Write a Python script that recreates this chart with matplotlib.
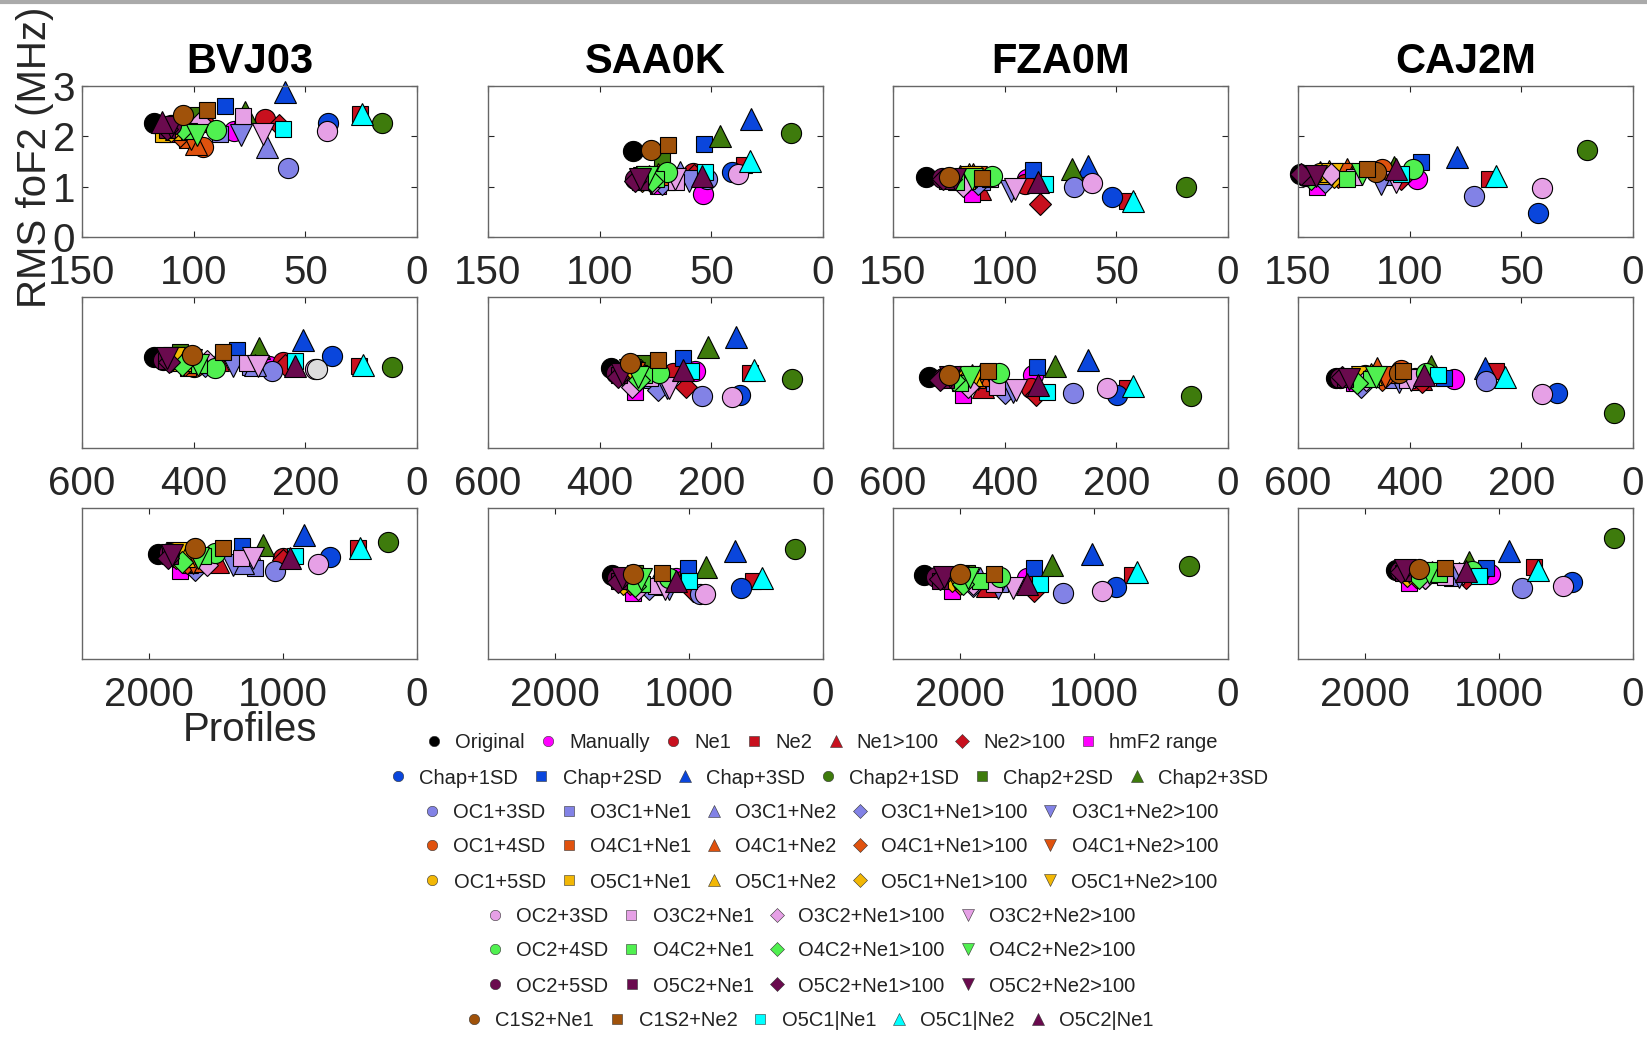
import matplotlib
matplotlib.use('Agg')
import matplotlib.pyplot as plt
from matplotlib.lines import Line2D

plt.rcParams['font.family'] = ['Liberation Sans', 'DejaVu Sans']

stations = ['BVJ03', 'SAA0K', 'FZA0M', 'CAJ2M']

labels = ['Original', 'Manually', 'Ne1', 'Ne2', 'Ne1>100', 'Ne2>100', 'hmF2 range',
          'Chap+1SD', 'Chap+2SD', 'Chap+3SD', 'Chap2+1SD', 'Chap2+2SD', 'Chap2+3SD',
          'OC1+3SD', 'O3C1+Ne1', 'O3C1+Ne2', 'O3C1+Ne1>100', 'O3C1+Ne2>100',
          'OC1+4SD', 'O4C1+Ne1', 'O4C1+Ne2', 'O4C1+Ne1>100', 'O4C1+Ne2>100',
          'OC1+5SD', 'O5C1+Ne1', 'O5C1+Ne2', 'O5C1+Ne1>100', 'O5C1+Ne2>100',
          'OC2+3SD', 'O3C2+Ne1', 'O3C2+Ne1>100', 'O3C2+Ne2>100',
          'OC2+4SD', 'O4C2+Ne1', 'O4C2+Ne1>100', 'O4C2+Ne2>100',
          'OC2+5SD', 'O5C2+Ne1', 'O5C2+Ne1>100', 'O5C2+Ne2>100',
          'C1S2+Ne1', 'C1S2+Ne2', 'O5C1|Ne1', 'O5C1|Ne2', 'O5C2|Ne1']

markers = ['o', 'o', 'o', 's', '^', 'D', 's',
           'o', 's', '^', 'o', 's', '^',
           'o', 's', '^', 'D', 'v',
           'o', 's', '^', 'D', 'v',
           'o', 's', '^', 'D', 'v',
           'o', 's', 'D', 'v',
           'o', 's', 'D', 'v',
           'o', 's', 'D', 'v',
           'o', 's', 's', '^', '^']

red = '#C8101E'
blue = '#0A46DC'
olive = '#3E7B0C'
slate = '#8282E6'
orange = '#E0520E'
gold = '#F2B705'
pink = '#E6A0E6'
lgreen = '#50F050'
purple = '#6A0A4E'
brown = '#A0520A'
colors = ['#000000', '#FF00FF', red, red, red, red, '#FF00FF',
          blue, blue, blue, olive, olive, olive,
          slate, slate, slate, slate, slate,
          orange, orange, orange, orange, orange,
          gold, gold, gold, gold, gold,
          pink, pink, pink, pink,
          lgreen, lgreen, lgreen, lgreen,
          purple, purple, purple, purple,
          brown, brown, '#00FFFF', '#00FFFF', purple]

# number of profiles (x) and RMS foF2 (y), one list per station and panel row
bvj03_r1_x = [117.8, 82, 68, 25.5, 93.6, 62, 112, 39.8, 86, 59, 15.7, 100, 77, 57.7, 88, 67, 104, 79, 96, 103,
              99, 106, 101, 112, 113.6, 108, 110, 106, 40.3, 78, 97, 69, 90, 102, 105, 98.5, 110, 112, 112, 110,
              105, 94, 60, 24.6, 114]
bvj03_r1_y = [2.26, 2.1, 2.34, 2.45, 2.3, 2.22, 2.05, 2.26, 2.6, 2.88, 2.26, 2.42, 2.48, 1.38, 2.05, 1.78, 2.0, 2.02,
              1.78, 1.92, 1.85, 2.0, 1.95, 2.2, 2.05, 2.15, 2.1, 2.2, 2.1, 2.4, 2.28, 2.05, 2.12, 2.1, 2.15, 2.02,
              2.22, 2.12, 2.15, 2.18, 2.42, 2.52, 2.15, 2.45, 2.28]
saa0k_r1_x = [85.2, 53.9, 58, 35.4, 74, 57.8, 74, 40.9, 53.3, 32.2, 14.3, 72.2, 46.1, 52.1, 70, 64, 72, 60, 78, 76,
              74, 77, 80, 80, 79, 78, 81, 79, 37.9, 66, 76, 66.3, 70, 75, 76.7, 79, 84, 82, 84, 82,
              77.2, 69.3, 53, 32.7, 54]
saa0k_r1_y = [1.71, 0.85, 1.28, 1.44, 1.32, 1.24, 1.02, 1.29, 1.85, 2.35, 2.07, 1.55, 2.0, 1.15, 1.1, 1.3, 1.05, 1.12,
              1.2, 1.15, 1.25, 1.1, 1.18, 1.15, 1.1, 1.22, 1.12, 1.2, 1.25, 1.1, 1.08, 1.15, 1.29, 1.15, 1.12, 1.2,
              1.15, 1.1, 1.12, 1.15, 1.73, 1.83, 1.3, 1.5, 1.22]
fza0m_r1_x = [135.2, 90, 90.9, 45.4, 111, 84.2, 114.8, 52, 87.2, 62.6, 18.8, 120, 70, 69, 110, 120, 112, 97, 118, 116,
              114, 117, 113, 118, 117, 116, 119, 115, 61, 106.6, 118.5, 95.4, 105.8, 122, 124, 114.8, 128, 126,
              127.5, 122.2, 125, 110, 82, 42.4, 85]
fza0m_r1_y = [1.2, 1.15, 1.05, 0.72, 0.95, 0.65, 0.85, 0.8, 1.33, 1.42, 1.0, 1.2, 1.35, 1.0, 1.1, 1.22, 1.05, 0.92,
              1.2, 1.15, 1.25, 1.1, 1.2, 1.18, 1.12, 1.25, 1.15, 1.2, 1.07, 1.15, 1.02, 0.95, 1.22, 1.1, 1.15, 1.15,
              1.18, 1.12, 1.15, 1.15, 1.2, 1.18, 1.05, 0.72, 1.09]
caj2m_r1_x = [149, 96.6, 105, 64.5, 108, 104, 141.5, 42.4, 95, 78.7, 20.5, 130, 107, 71.2, 110, 140, 138, 113, 112.3,
              125, 128, 132, 130.2, 140, 138, 136, 134, 135, 40.6, 125, 135.4, 106.3, 98.5, 128, 144, 121.2, 147,
              145, 148.8, 142.1, 115, 119, 104, 61.2, 106]
caj2m_r1_y = [1.25, 1.15, 1.2, 1.15, 1.3, 1.15, 0.99, 0.47, 1.49, 1.59, 1.72, 1.3, 1.4, 0.82, 1.2, 1.3, 1.1, 1.05,
              1.35, 1.25, 1.35, 1.2, 1.25, 1.28, 1.22, 1.32, 1.2, 1.25, 0.97, 1.2, 1.25, 1.09, 1.35, 1.15, 1.15, 1.25,
              1.22, 1.2, 1.25, 1.22, 1.3, 1.35, 1.25, 1.22, 1.36]

bvj03_r2_x = [471, 265, 240, 103.3, 355.9, 236.4, 410, 152.8, 321.8, 203.6, 44.2, 424.5, 283, 259.1, 300, 290, 380,
              329, 400, 409.6, 395, 415, 405, 430, 425, 420, 440, 435, 182, 305, 376.6, 284.2, 361.8, 390, 421,
              391.7, 455, 450, 445, 448, 403.5, 346.9, 218.5, 96.2, 218.5]
bvj03_r2_y = [1.8, 1.62, 1.7, 1.62, 1.75, 1.65, 1.7, 1.82, 1.95, 2.15, 1.6, 1.91, 1.98, 1.52, 1.6, 1.65, 1.62, 1.62,
              1.6, 1.58, 1.7, 1.65, 1.75, 1.8, 1.7, 1.75, 1.72, 1.78, 1.57, 1.68, 1.72, 1.62, 1.58, 1.65, 1.65, 1.65,
              1.75, 1.72, 1.7, 1.78, 1.85, 1.91, 1.72, 1.65, 1.62]
saa0k_r2_x = [380.2, 229.3, 268, 130.7, 300, 245.4, 336.7, 148.7, 251.3, 155.8, 55, 324.7, 206.6, 216.2, 306.8, 290,
              295, 280, 335, 330, 325, 340, 338, 345, 340, 338, 350, 345, 163.5, 310, 342.6, 275.3, 293.7, 320, 330,
              330.8, 370, 365, 368, 360, 345.7, 295, 236, 123, 251.3]
saa0k_r2_y = [1.58, 1.52, 1.49, 1.5, 1.45, 1.22, 1.12, 1.05, 1.78, 2.2, 1.37, 1.68, 2.01, 1.03, 1.35, 1.4, 1.15, 1.2,
              1.55, 1.5, 1.52, 1.45, 1.5, 1.6, 1.55, 1.6, 1.5, 1.55, 1.01, 1.4, 1.22, 1.19, 1.49, 1.45, 1.35, 1.42,
              1.5, 1.45, 1.42, 1.48, 1.68, 1.75, 1.52, 1.55, 1.55]
fza0m_r2_x = [535, 348.7, 352, 181.5, 439.4, 343.9, 474, 199.4, 342.6, 250.2, 66.3, 470, 309.8, 278.2, 420, 440,
              399.4, 385, 455, 450, 445, 460, 448, 465, 460, 458, 470, 455, 217.3, 414.3, 465, 379.7, 409.6, 480, 490,
              462, 510, 505, 515.8, 497.9, 500, 429.3, 324.7, 170.7, 339.8]
fza0m_r2_y = [1.42, 1.45, 1.2, 1.19, 1.22, 1.05, 1.05, 1.05, 1.6, 1.75, 1.03, 1.45, 1.63, 1.1, 1.3, 1.45, 1.09, 1.12,
              1.4, 1.35, 1.45, 1.3, 1.38, 1.42, 1.38, 1.45, 1.35, 1.42, 1.19, 1.21, 1.22, 1.15, 1.5, 1.3, 1.35, 1.42,
              1.4, 1.35, 1.35, 1.42, 1.45, 1.52, 1.12, 1.23, 1.25]
caj2m_r2_x = [532.5, 320.6, 390, 245.9, 380, 378.5, 500, 135.6, 338.5, 265, 34, 440, 362.3, 263.8, 430, 470, 487.7,
              419, 416, 430, 458, 450, 445, 480, 475, 470, 490, 485, 162.4, 405, 478.7, 398, 371.3, 470, 495, 460.8,
              525, 515, 520.6, 508, 420, 412, 350, 229.2, 375]
caj2m_r2_y = [1.39, 1.37, 1.4, 1.52, 1.38, 1.32, 1.3, 1.09, 1.39, 1.58, 0.69, 1.45, 1.63, 1.34, 1.35, 1.45, 1.22, 1.32,
              1.54, 1.45, 1.58, 1.35, 1.42, 1.45, 1.4, 1.48, 1.38, 1.42, 1.07, 1.35, 1.35, 1.35, 1.49, 1.38, 1.3, 1.42,
              1.4, 1.38, 1.42, 1.38, 1.5, 1.52, 1.45, 1.42, 1.45]
# one unlabelled grey point in BVJ03, middle row
bvj03_r2_extra_x = [179.6]
bvj03_r2_extra_y = [1.56]

bvj03_r3_x = [1931, 1250, 1000, 438, 1483, 998, 1769, 649, 1304, 841, 214, 1700, 1147, 1060, 1210, 1300, 1657, 1371,
              1690, 1694, 1650, 1720, 1670, 1780, 1760, 1740, 1800, 1790, 741, 1317, 1569, 1222, 1508, 1600, 1756,
              1632, 1850, 1840, 1860, 1831, 1657, 1450, 910, 425, 948]
bvj03_r3_y = [2.09, 1.95, 2.0, 2.2, 1.93, 1.97, 1.74, 2.03, 2.25, 2.47, 2.32, 2.15, 2.27, 1.74, 1.8, 1.9, 1.77, 1.87,
              1.95, 1.87, 1.95, 1.9, 1.9, 2.05, 2.0, 2.05, 2.0, 2.1, 1.89, 2.0, 1.87, 2.0, 2.1, 2.05, 1.93, 2.0,
              2.1, 2.05, 2.0, 2.07, 2.2, 2.2, 2.05, 2.2, 2.0]
saa0k_r3_x = [1575, 1100, 1050, 520, 1250, 970, 1418, 612, 1008, 657, 209, 1400, 873, 918, 1200, 1250, 1300, 1150,
              1420, 1400, 1380, 1440, 1410, 1480, 1460, 1450, 1490, 1470, 880, 1250, 1380, 1180, 1150, 1350, 1400,
              1360, 1540, 1520, 1530, 1500, 1420, 1200, 1000, 455, 1100]
saa0k_r3_y = [1.67, 1.6, 1.55, 1.55, 1.5, 1.35, 1.31, 1.41, 1.81, 2.15, 2.19, 1.7, 1.83, 1.29, 1.45, 1.55, 1.4, 1.4,
              1.6, 1.55, 1.62, 1.5, 1.58, 1.6, 1.55, 1.62, 1.5, 1.58, 1.3, 1.45, 1.4, 1.4, 1.6, 1.5, 1.45, 1.58,
              1.6, 1.55, 1.52, 1.6, 1.68, 1.7, 1.55, 1.6, 1.55]
fza0m_r3_x = [2269, 1500, 1450, 716, 1800, 1448, 2060, 836, 1448, 1015, 291, 1950, 1313, 1231, 1700, 1850, 1900, 1720,
              1980, 1960, 1940, 2000, 1970, 2050, 2030, 2010, 2060, 2040, 937, 1750, 1900, 1604, 1700, 1850, 1980,
              1940, 2180, 2150, 2150, 2120, 2000, 1750, 1400, 679, 1500]
fza0m_r3_y = [1.67, 1.6, 1.55, 1.67, 1.45, 1.35, 1.35, 1.43, 1.81, 2.09, 1.85, 1.7, 1.87, 1.31, 1.5, 1.6, 1.45, 1.41,
              1.6, 1.55, 1.65, 1.5, 1.58, 1.62, 1.55, 1.65, 1.55, 1.6, 1.35, 1.5, 1.5, 1.41, 1.62, 1.55, 1.5, 1.61,
              1.62, 1.55, 1.58, 1.62, 1.68, 1.68, 1.5, 1.73, 1.5]
caj2m_r3_x = [1772, 1067, 1150, 739, 1300, 1250, 1672, 455, 1100, 925, 142, 1600, 1224, 832, 1350, 1500, 1550, 1300,
              1600, 1580, 1560, 1620, 1590, 1680, 1660, 1650, 1690, 1670, 519, 1400, 1550, 1270, 1200, 1450, 1600,
              1522, 1740, 1720, 1730, 1700, 1600, 1400, 1150, 709, 1250]
caj2m_r3_y = [1.77, 1.69, 1.7, 1.83, 1.7, 1.6, 1.51, 1.53, 1.8, 2.15, 2.41, 1.75, 1.93, 1.41, 1.6, 1.72, 1.6, 1.62,
              1.72, 1.65, 1.75, 1.62, 1.7, 1.75, 1.68, 1.76, 1.65, 1.72, 1.45, 1.62, 1.6, 1.68, 1.75, 1.68, 1.6, 1.7,
              1.75, 1.7, 1.72, 1.76, 1.78, 1.8, 1.65, 1.77, 1.75]

xmax_rows = [150, 600, 2500]
xticks_rows = [[150, 100, 50, 0], [600, 400, 200, 0], [2000, 1000, 0]]
yticks_top = [0, 1, 2, 3]

panels = [
    [(bvj03_r1_x, bvj03_r1_y), (saa0k_r1_x, saa0k_r1_y), (fza0m_r1_x, fza0m_r1_y), (caj2m_r1_x, caj2m_r1_y)],
    [(bvj03_r2_x, bvj03_r2_y), (saa0k_r2_x, saa0k_r2_y), (fza0m_r2_x, fza0m_r2_y), (caj2m_r2_x, caj2m_r2_y)],
    [(bvj03_r3_x, bvj03_r3_y), (saa0k_r3_x, saa0k_r3_y), (fza0m_r3_x, fza0m_r3_y), (caj2m_r3_x, caj2m_r3_y)],
]

msize = {'o': 14.5, 's': 11.5, '^': 15.5, 'v': 15.5, 'D': 11}
leg_msize = {'o': 7.5, 's': 6.5, '^': 8, 'v': 8, 'D': 7}

W, H = 1647, 1039
fig = plt.figure(figsize=(W / 100, H / 100), dpi=100)
fig.add_artist(Line2D([0, 1], [0.998, 0.998], color='#aaaaaa', lw=3, transform=fig.transFigure))

col_left = [82, 488, 893, 1298]
row_top = [86, 297, 508]
ax_w, ax_h = 335, 151

tick_col = '#262626'
for r in range(3):
    for c in range(4):
        ax = fig.add_axes([col_left[c] / W, 1 - (row_top[r] + ax_h) / H, ax_w / W, ax_h / H])
        xs, ys = panels[r][c]
        for i in range(len(labels)):
            m = markers[i]
            ax.plot(xs[i], ys[i], ls='none', marker=m, ms=msize[m], mfc=colors[i], mec='k',
                    mew=0.8, clip_on=False)
        if r == 1 and c == 0:
            ax.plot(bvj03_r2_extra_x, bvj03_r2_extra_y, ls='none', marker='o', ms=msize['o'],
                    mfc='#DCDCDC', mec='k', mew=0.8, clip_on=False)
        ax.set_xlim(xmax_rows[r], 0)
        ax.set_ylim(0, 3)
        ax.set_xticks(xticks_rows[r])
        if r == 0 and c == 0:
            ax.set_yticks(yticks_top)
        elif r == 0:
            ax.set_yticks(yticks_top)
            ax.set_yticklabels([])
        else:
            ax.set_yticks([])
        ax.tick_params(direction='in', length=4, width=0.8, top=True, right=True,
                       labelsize=29, colors=tick_col, pad=12)
        ax.tick_params(axis='y', pad=5)
        for sp in ax.spines.values():
            sp.set_color('#666666')
            sp.set_linewidth(1.0)
        if r == 0:
            ax.set_title(stations[c], fontsize=30, fontweight='bold', pad=9)
        if r == 0 and c == 0:
            ax.set_ylabel('RMS foF2 (MHz)', fontsize=29, color=tick_col)
            ax.yaxis.set_label_coords(-0.085, 0.53)
        if r == 2 and c == 0:
            ax.set_xlabel('Profiles', fontsize=29, color=tick_col)
            ax.xaxis.set_label_coords(0.5, -0.345)

# legend, one row of entries at a time
leg_rows = [(0, 7), (7, 13), (13, 18), (18, 23), (23, 28), (28, 32), (32, 36), (36, 40), (40, 45)]
leg_cx = [821, 828, 820, 820, 820, 810, 810, 810, 809]
leg_cy = [743, 778, 813, 847, 882, 917, 951, 986, 1021]
for k, (a, b) in enumerate(leg_rows):
    handles = [Line2D([], [], ls='none', marker=markers[i], ms=leg_msize[markers[i]], mfc=colors[i],
                      mec='#333333', mew=0.4) for i in range(a, b)]
    fig.legend(handles, labels[a:b], loc='center', bbox_to_anchor=(leg_cx[k] / W, 1 - leg_cy[k] / H),
               ncol=b - a, frameon=False, fontsize=14.5, handlelength=1.0, handletextpad=0.55,
               columnspacing=0.65, borderpad=0, borderaxespad=0, labelcolor='#222222')

fig.savefig('out.png', dpi=100)
